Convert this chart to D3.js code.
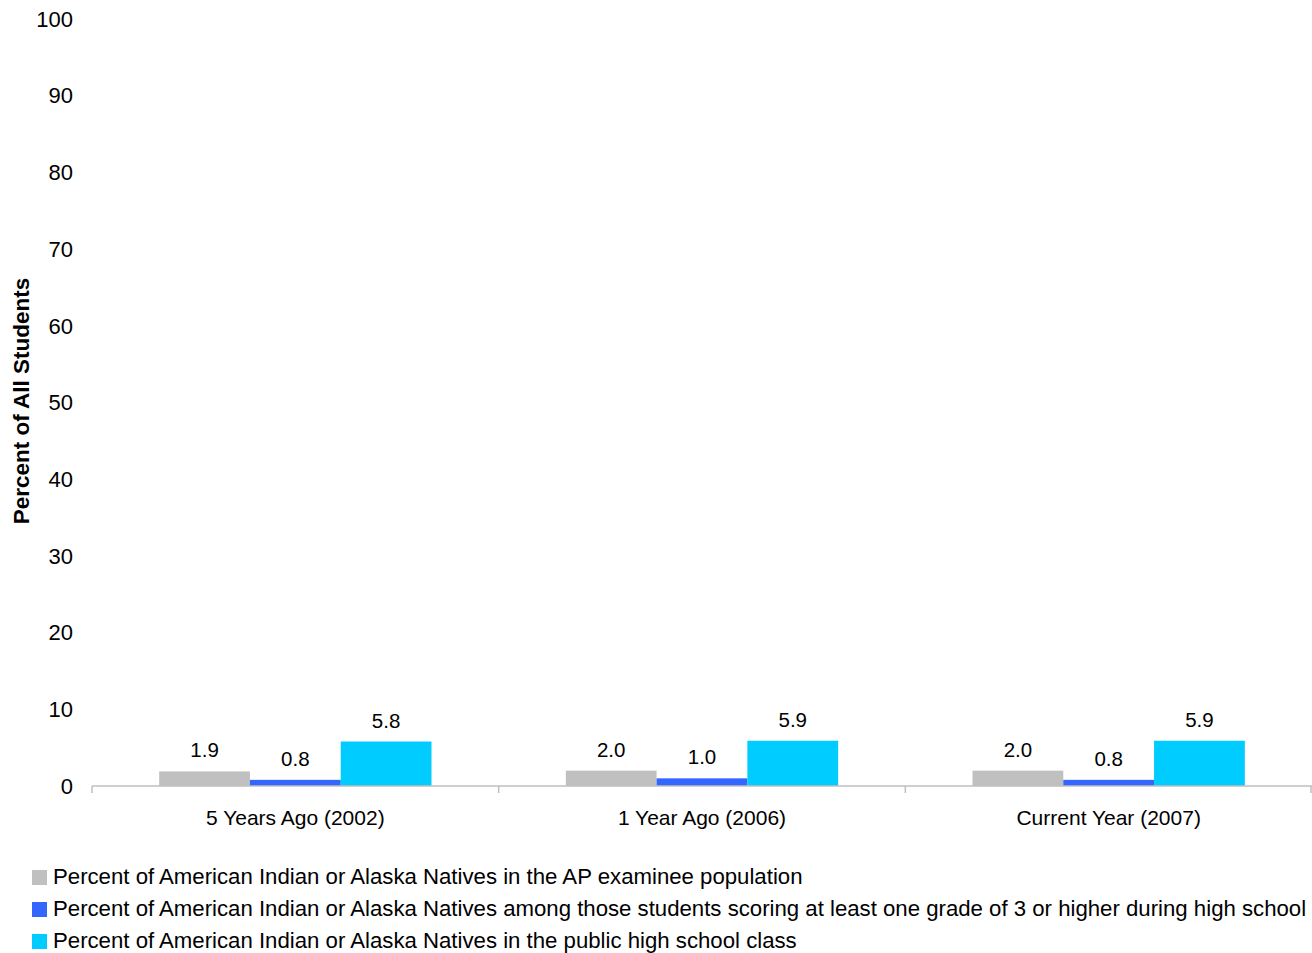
<!DOCTYPE html>
<html>
<head>
<meta charset="utf-8">
<script src="https://cdn.jsdelivr.net/npm/d3@7"></script>
<style>
  body { margin: 0; background: #fff; }
  text { font-family: "Liberation Sans", Arial, sans-serif; fill: #000; }
</style>
</head>
<body>
<svg id="chart"></svg>
<script>
const categories = ["5 Years Ago (2002)", "1 Year Ago (2006)", "Current Year (2007)"];
const seriesNames = [
  "Percent of American Indian or Alaska Natives in the AP examinee population",
  "Percent of American Indian or Alaska Natives among those students scoring at least one grade of 3 or higher during high school",
  "Percent of American Indian or Alaska Natives in the public high school class"
];
const seriesColors = ["#c0c0c0", "#3366ff", "#00ccff"];
const examinees = [1.9, 2.0, 2.0];
const scoring3 = [0.8, 1.0, 0.8];
const publicClass = [5.8, 5.9, 5.9];
const yTicks = [0, 10, 20, 30, 40, 50, 60, 70, 80, 90, 100];

const series = [examinees, scoring3, publicClass];

let width = 1312, height = 953;
let margin = {top: 19, right: 0, bottom: 167, left: 92};

let svg = d3.select("#chart")
    .attr("width", width)
    .attr("height", height);

let x = d3.scaleBand()
    .domain(categories)
    .range([margin.left, width - margin.right])
    .paddingInner(0)
    .paddingOuter(0);

let inner = d3.scaleBand()
    .domain(d3.range(series.length))
    .range([0, x.bandwidth()])
    .paddingInner(0)
    .paddingOuter(0.74);

let y = d3.scaleLinear()
    .domain([0, 100])
    .range([height - margin.bottom, margin.top]);

// y tick labels (no axis line)
svg.append("g")
    .selectAll("text")
    .data(yTicks)
    .enter().append("text")
    .attr("x", 73)
    .attr("y", d => y(d))
    .attr("dy", "0.35em")
    .attr("text-anchor", "end")
    .style("font-size", "22px")
    .text(d => d);

// bars
let groups = svg.selectAll(".grp")
    .data(categories)
    .enter().append("g")
    .attr("class", "grp")
    .attr("transform", d => "translate(" + x(d) + ",0)");

series.forEach(function(vals, si) {
    groups.append("rect")
        .attr("x", inner(si))
        .attr("width", inner.bandwidth())
        .attr("y", (d, i) => y(vals[i]))
        .attr("height", (d, i) => y(0) - y(vals[i]))
        .attr("fill", seriesColors[si]);
    groups.append("text")
        .attr("x", inner(si) + inner.bandwidth() / 2)
        .attr("y", (d, i) => y(vals[i]) - 14)
        .attr("text-anchor", "middle")
        .style("font-size", "20.5px")
        .text((d, i) => d3.format(".1f")(vals[i]));
});

// x axis
let xAxis = svg.append("g")
    .attr("transform", "translate(0," + y(0) + ")");
xAxis.append("line")
    .attr("x1", margin.left).attr("x2", width)
    .attr("stroke", "#bfbfbf").attr("stroke-width", 1.5);
let tickPos = categories.map(c => x(c)).concat([width - 1]);
xAxis.selectAll(".tk")
    .data(tickPos)
    .enter().append("line")
    .attr("x1", d => d).attr("x2", d => d)
    .attr("y1", 0).attr("y2", 7)
    .attr("stroke", "#bfbfbf").attr("stroke-width", 1.5);
xAxis.selectAll(".cat")
    .data(categories)
    .enter().append("text")
    .attr("x", d => x(d) + x.bandwidth() / 2)
    .attr("y", 39)
    .attr("text-anchor", "middle")
    .style("font-size", "21px")
    .text(d => d);

// y title
svg.append("text")
    .attr("transform", "translate(29," + 401 + ") rotate(-90)")
    .attr("text-anchor", "middle")
    .style("font-size", "22.5px")
    .style("font-weight", "bold")
    .text("Percent of All Students");

// legend
let legend = svg.append("g");
seriesNames.forEach(function(name, i) {
    let ly = 876 + i * 32;
    legend.append("rect")
        .attr("x", 32).attr("y", ly - 6)
        .attr("width", 15).attr("height", 15)
        .attr("fill", seriesColors[i]);
    legend.append("text")
        .attr("x", 53).attr("y", ly)
        .attr("dy", "0.35em")
        .style("font-size", "22.2px")
        .text(name);
});
</script>
</body>
</html>
